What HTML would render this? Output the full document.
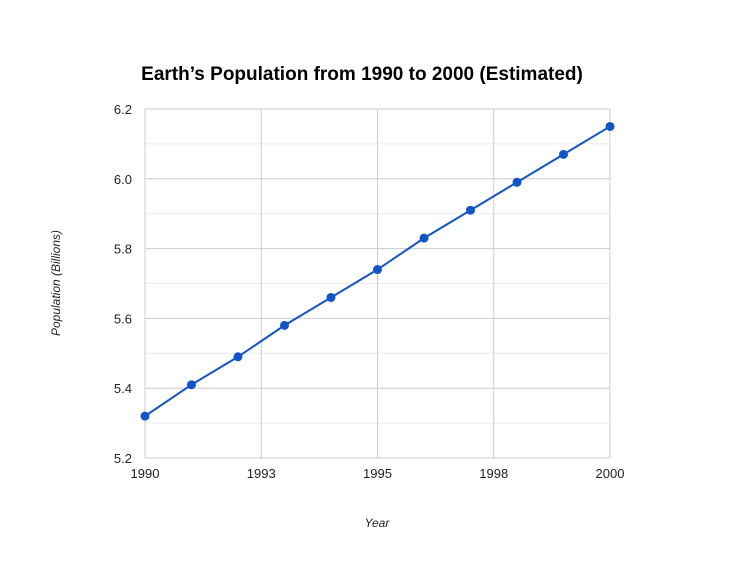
<!DOCTYPE html>
<html><head><meta charset="utf-8"><style>
html,body{margin:0;padding:0;background:#fff;}
svg{display:block;font-family:"Liberation Sans",Arial,sans-serif;}
</style></head><body>
<svg id="chart" width="754" height="566" viewBox="0 0 754 566">
<text x="362" y="80" text-anchor="middle" font-size="19" font-weight="bold" fill="#000">Earth’s Population from 1990 to 2000 (Estimated)</text>
<text transform="translate(60,283) rotate(-90)" text-anchor="middle" font-size="12" font-style="italic" fill="#222">Population (Billions)</text>
<text x="377" y="527" text-anchor="middle" font-size="12" font-style="italic" fill="#222">Year</text>
<g id="grid"></g><g id="axes"></g><g id="series"></g>
</svg>
<script>
const years = [1990,1991,1992,1993,1994,1995,1996,1997,1998,1999,2000];
const population = [5.32,5.41,5.49,5.58,5.66,5.74,5.83,5.91,5.99,6.07,6.15];
const yTicks = [5.2,5.4,5.6,5.8,6.0,6.2];
const yMinorTicks = [5.3,5.5,5.7,5.9,6.1];
const xTicks = [1990,1992.5,1995,1997.5,2000];
const xTickLabels = ["1990","1993","1995","1998","2000"];

const X0=145,X1=610,Y0=458,Y1=109;
const xs=v=>X0+(v-1990)/(2000-1990)*(X1-X0);
const ys=v=>Y0-(v-5.2)/(6.2-5.2)*(Y0-Y1);
const NS="http://www.w3.org/2000/svg";
function mk(tag,attrs,parent){const e=document.createElementNS(NS,tag);for(const k in attrs)e.setAttribute(k,attrs[k]);parent.appendChild(e);return e;}
const grid=document.getElementById('grid'),axes=document.getElementById('axes'),series=document.getElementById('series');

yMinorTicks.forEach(v=>{
  const l=mk('line',{x1:X0,x2:X1,y1:ys(v),y2:ys(v),stroke:'#ebebeb','stroke-width':1},grid);
  
  
});
yTicks.forEach(v=>{
  const l=mk('line',{x1:X0,x2:X1,y1:ys(v),y2:ys(v),stroke:'#cccccc','stroke-width':1},grid);
  
  
  const t=mk('text',{x:X0-13,y:ys(v)+5,'text-anchor':'end','font-size':13,fill:'#222'},axes);
  t.textContent=v.toFixed(1);
  
  
});
xTicks.forEach((v,i)=>{
  const l=mk('line',{x1:xs(v),x2:xs(v),y1:Y1,y2:Y0,stroke:'#cccccc','stroke-width':1},grid);
  
  
  const t=mk('text',{x:xs(v),y:Y0+20,'text-anchor':'middle','font-size':13,fill:'#222'},axes);
  t.textContent=xTickLabels[i];
  
  
});
const pts=years.map((y,i)=>xs(y)+','+ys(population[i])).join(' ');
const line=mk('polyline',{points:pts,fill:'none',stroke:'#1155cc','stroke-width':2},series);


years.forEach((y,i)=>{
  const c=mk('circle',{cx:xs(y),cy:ys(population[i]),r:4.5,fill:'#1155cc'},series);
  
  
});
</script>
</body></html>
